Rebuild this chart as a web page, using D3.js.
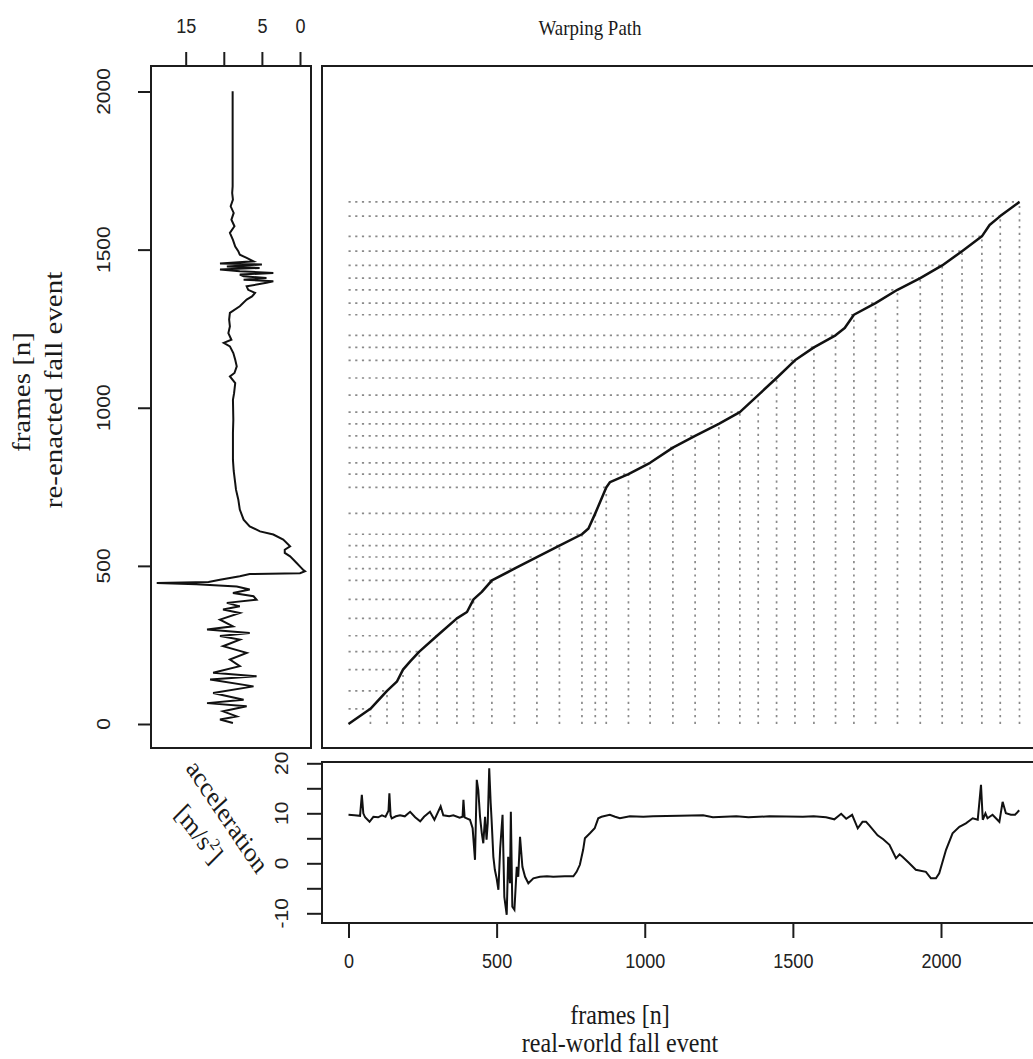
<!DOCTYPE html>
<html><head><meta charset="utf-8">
<script src="https://cdn.jsdelivr.net/npm/d3@7"></script>
<style>body{margin:0;background:#fff}svg{display:block}</style>
</head><body>
<svg id="c" width="1033" height="1059"></svg>
<script>
// ---- data ----
const frameTicks = [0, 500, 1000, 1500, 2000];
const accTopTicks = [0, 5, 10, 15];
const accTopLabels = ["0", "5", "", "15"];
const accSideTicks = [-10, -5, 0, 5, 10, 15, 20];
const accSideLabels = ["-10", "", "0", "", "10", "", "20"];

// warping path: [real-world frame, re-enacted frame]
const warpPath = [[0,0],[74,48],[130,105],[164,135],[184,172],[209,199],[239,229],[299,279],[366,334],[400,354],
  [422,394],[450,418],[484,454],[560,491],[636,528],[712,564],[788,600],[810,618],[833,666],[870,748],
  [883,765],[945,790],[1018,826],[1095,874],[1170,911],[1250,949],[1321,986],[1383,1040],[1445,1094],[1507,1150],
  [1571,1191],[1644,1229],[1675,1252],[1706,1294],[1779,1331],[1853,1373],[1930,1410],[2004,1450],[2071,1495],[2138,1542],
  [2164,1578],[2200,1606],[2265,1651]];
// path points that carry the dotted match lines
const matchIdx = [0,1,2,4,6,7,8,10,12,13,14,15,16,18,19,21,22,23,24,25,26,27,28,29,30,31,33,34,35,36,37,38,39,41,42];

// real-world fall event: [frame, acceleration]
const realSeries = [[0,9.7],[20,9.6],[39,9.5],[45,13.7],[50,10],[56,9.2],[71,8.3],[84,9.3],[100,9.2],[113,9.6],
  [125,9.3],[135,10.5],[138,14],[142,9.6],[146,9.0],[160,9.4],[174,9.6],[190,9.4],[208,10.3],[225,9.2],
  [242,8.4],[255,9.3],[275,10.3],[290,8.7],[311,11.4],[320,9.6],[340,9.4],[354,9.6],[375,9.1],[385,9.3],
  [388,12.7],[392,9.2],[399,9.0],[410,8.7],[419,7.0],[427,0.7],[433,16.7],[438,14.7],[444,9.3],[450,6],
  [455,4],[461,9.3],[466,4.7],[470,8],[475,19],[480,12],[483,8.7],[489,1.3],[494,-1.3],[500,-3],
  [506,-5.3],[512,3],[520,9.7],[526,-6.7],[534,-10.3],[539,1.3],[545,-4],[548,10.3],[553,-8.7],[560,-9.3],
  [568,-0.7],[573,-2.7],[579,5.3],[587,-0.7],[596,-2.7],[607,-4],[624,-3],[646,-2.7],[670,-2.6],[691,-2.7],
  [730,-2.6],[759,-2.6],[770,-1.7],[781,-0.3],[792,2.7],[798,5],[815,6],[831,7],[843,9],[854,9.3],
  [882,9.7],[900,9.3],[916,9.0],[950,9.4],[995,9.3],[1028,9.4],[1118,9.5],[1197,9.6],[1230,9.2],[1309,9.4],
  [1350,9.2],[1421,9.4],[1534,9.3],[1570,9.4],[1612,9.2],[1640,8.8],[1663,9.9],[1680,8.9],[1700,9.7],[1719,7.0],
  [1735,8.3],[1747,8.3],[1758,7.6],[1786,5.6],[1805,4.8],[1826,3.7],[1848,1.0],[1860,1.8],[1870,1.3],[1893,0.0],
  [1915,-1.3],[1949,-1.7],[1966,-3.0],[1983,-3.0],[1994,-2.0],[2017,2.7],[2039,6.0],[2062,7.3],[2084,8.0],[2107,9.0],
  [2124,8.7],[2135,15.7],[2141,8.7],[2150,10.0],[2157,9.0],[2174,9.7],[2197,8.3],[2208,12.3],[2219,10.0],[2236,9.7],
  [2250,9.7],[2264,10.6]];

// re-enacted fall event: [frame, acceleration]
const reenactedSeries = [[3,8.8],[14,10.5],[24,8.3],[40,10.1],[56,7.0],[66,12.2],[77,7.4],[98,11.4],[119,6.1],[141,11.8],
  [151,5.7],[162,11.4],[183,7.9],[204,9.2],[225,7.0],[246,10.1],[267,7.9],[278,10.5],[288,6.6],[299,12.2],
  [309,8.8],[330,10.5],[351,7.9],[362,10.1],[372,7.9],[383,9.6],[393,5.7],[404,6.1],[414,8.8],[425,6.6],
  [435,8.3],[442,13.6],[446,18.8],[449,12],[456,10.5],[467,7.9],[474,6.6],[477,0.0],[483,-0.66],[488,-0.4],
  [493,-0.2],[509,0.44],[530,1.3],[541,2.0],[551,2.0],[562,1.3],[583,2.2],[599,3.5],[609,5.25],[625,6.6],
  [646,7.4],[678,7.9],[710,8.1],[741,8.4],[762,8.5],[800,8.7],[835,8.8],[920,8.8],[962,8.75],[1025,8.8],
  [1046,8.65],[1078,8.5],[1099,9.2],[1110,8.6],[1131,8.3],[1152,8.5],[1173,8.75],[1194,9.2],[1205,10.0],[1215,9.0],
  [1236,9.4],[1257,9.2],[1279,9.3],[1300,9.2],[1321,7.9],[1342,7.0],[1352,6.3],[1363,5.9],[1373,6.8],[1384,7.0],
  [1395,4.4],[1400,3.5],[1405,7.4],[1410,4.4],[1416,7.4],[1421,7.9],[1426,3.5],[1432,7.9],[1437,10.5],[1442,5.3],
  [1447,9.6],[1453,5.0],[1456,10.5],[1463,6.1],[1474,7.0],[1484,7.9],[1495,8.1],[1510,8.5],[1531,8.8],[1553,9.2],
  [1574,8.6],[1595,9.0],[1616,8.7],[1637,9.1],[1658,8.8],[1679,8.9],[1700,8.84],[2001,8.84]];

// ---- layout ----
const ink = "#1c1c1c";
const SANS = "'Liberation Sans', Arial, sans-serif";
const SERIF = "'Liberation Serif', 'Times New Roman', serif";
const SQ = "scale(0.86,1)";   // the reference's glyphs are horizontally narrowed
const TICK_FS = 21;
const mainP = {x0:322, x1:1047, y0:66, y1:748};
const leftP = {x0:151, x1:311, y0:66, y1:748};
const botP  = {x0:322, x1:1047, y0:762, y1:923};

const x = d3.scaleLinear().domain([0, 2000]).range([348.5, 941]);
const y = d3.scaleLinear().domain([0, 2000]).range([724, 91.5]);
const accL = d3.scaleLinear().domain([0, 15]).range([300, 185.7]);
const accB = d3.scaleLinear().domain([-10, 20]).range([913.3, 763.3]);

const svg = d3.select("#c");
const defs = svg.append("defs");
function clip(id, p){
  defs.append("clipPath").attr("id", id).append("rect")
    .attr("x", p.x0).attr("y", p.y0).attr("width", p.x1 - p.x0).attr("height", p.y1 - p.y0);
}
clip("cm", mainP); clip("cl", leftP); clip("cb", botP);

// ---- main panel: match lines + path ----
const gm = svg.append("g").attr("clip-path", "url(#cm)");
const matches = matchIdx.map(i => warpPath[i]);
gm.selectAll(".mv").data(matches).join("line")
  .attr("x1", d => x(d[0])).attr("x2", d => x(d[0]))
  .attr("y1", y(0)).attr("y2", d => y(d[1]))
  .attr("stroke", "#8a8a8a").attr("stroke-width", 1.7).attr("stroke-dasharray", "2.2,4.5");
gm.selectAll(".mh").data(matches).join("line")
  .attr("x1", x(0)).attr("x2", d => x(d[0]))
  .attr("y1", d => y(d[1])).attr("y2", d => y(d[1]))
  .attr("stroke", "#8a8a8a").attr("stroke-width", 1.7).attr("stroke-dasharray", "2.2,4.5");
gm.append("path").datum(warpPath)
  .attr("d", d3.line().x(d => x(d[0])).y(d => y(d[1])))
  .attr("fill", "none").attr("stroke", "#111").attr("stroke-width", 2.5).attr("stroke-linejoin", "round");

// ---- left panel: re-enacted signal (value horizontal, frame vertical) ----
svg.append("g").attr("clip-path", "url(#cl)").append("path").datum(reenactedSeries)
  .attr("d", d3.line().x(d => accL(d[1])).y(d => y(d[0])))
  .attr("fill", "none").attr("stroke", "#111").attr("stroke-width", 2);

// ---- bottom panel: real-world signal ----
svg.append("g").attr("clip-path", "url(#cb)").append("path").datum(realSeries)
  .attr("d", d3.line().x(d => x(d[0])).y(d => accB(d[1])))
  .attr("fill", "none").attr("stroke", "#111").attr("stroke-width", 2);

// ---- panel boxes ----
[mainP, leftP, botP].forEach(p => svg.append("rect")
  .attr("x", p.x0).attr("y", p.y0).attr("width", p.x1 - p.x0).attr("height", p.y1 - p.y0)
  .attr("fill", "none").attr("stroke", ink).attr("stroke-width", 2));

// ---- axes ----
function styleAxis(g){
  g.select(".domain").remove();
  g.selectAll(".tick line").attr("stroke", ink).attr("stroke-width", 2);
  g.selectAll("text").attr("font-family", SANS).attr("font-size", TICK_FS).attr("fill", "#222")
    .attr("transform", SQ);
}
// top axis of left panel
svg.append("g").attr("transform", `translate(0,${leftP.y0})`)
  .call(d3.axisTop(accL).tickValues(accTopTicks).tickSize(14).tickPadding(19)
    .tickFormat((d, i) => accTopLabels[i]))
  .call(styleAxis);
// left axis (re-enacted frames)
svg.append("g").attr("transform", `translate(${leftP.x0},0)`)
  .call(d3.axisLeft(y).tickValues(frameTicks).tickSize(13).tickFormat(""))
  .call(styleAxis);
svg.selectAll(".fl").data(frameTicks).join("text")
  .attr("transform", d => `translate(110,${y(d)}) ${SQ} rotate(-90)`)
  .attr("text-anchor", "middle").attr("font-family", SANS).attr("font-size", TICK_FS).attr("fill", "#222")
  .text(d => d);
// bottom panel y axis
svg.append("g").attr("transform", `translate(${botP.x0},0)`)
  .call(d3.axisLeft(accB).tickValues(accSideTicks).tickSize(15).tickFormat(""))
  .call(styleAxis);
svg.selectAll(".al").data(accSideTicks.filter((d, i) => accSideLabels[i] !== "")).join("text")
  .attr("transform", d => `translate(288,${accB(d)}) ${SQ} rotate(-90)`)
  .attr("text-anchor", "middle").attr("font-family", SANS).attr("font-size", TICK_FS).attr("fill", "#222")
  .text(d => accSideLabels[accSideTicks.indexOf(d)]);
// bottom x axis (real-world frames)
svg.append("g").attr("transform", `translate(0,${botP.y1})`)
  .call(d3.axisBottom(x).tickValues(frameTicks).tickSize(15).tickPadding(15).tickFormat(d3.format("d")))
  .call(styleAxis);

// ---- titles / labels ----
function txt(str, tx, ty, rot, size, fam){
  return svg.append("text").attr("transform", `translate(${tx},${ty}) ${SQ} rotate(${rot})`)
    .attr("text-anchor", "middle").attr("font-family", fam).attr("font-size", size).attr("fill", "#1a1a1a").text(str);
}
txt("Warping Path", 590, 35, 0, 22, SERIF);
txt("frames [n]", 620, 1024, 0, 28, SERIF);
txt("real-world fall event", 620, 1052, 0, 28, SERIF);
txt("frames [n]", 30, 392, -90, 29, SERIF);
txt("re-enacted fall event", 62, 390, -90, 29, SERIF);
txt("acceleration", 221, 822, 52, 28, SERIF);
const u = txt("", 193, 840, 49, 28, SERIF);
u.append("tspan").text("[m/s");
u.append("tspan").attr("font-size", 17).attr("dy", -11).text("2");
u.append("tspan").attr("dy", 11).text("]");
</script>
</body></html>
